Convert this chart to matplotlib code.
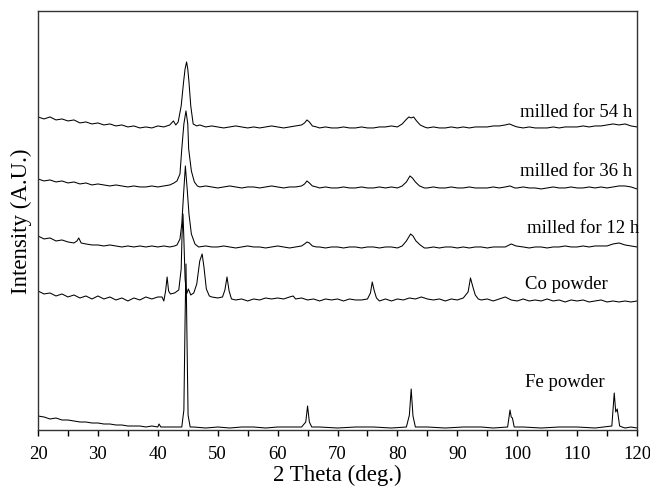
import matplotlib
matplotlib.use("Agg")
import matplotlib.pyplot as plt
from matplotlib.ticker import MultipleLocator

plt.rcParams['font.family'] = ['Liberation Serif', 'DejaVu Serif']

# (2theta deg, intensity a.u.); curves already offset
milled_54h = [
    (20, 313), (21, 311), (22, 313), (23, 310), (24, 311), (25, 309), (26, 310), (27, 307),
    (28, 308), (29, 306), (30, 307), (31, 305), (32, 306), (33, 304), (34, 305), (35, 303),
    (36, 304), (37, 302), (38, 303), (39, 302), (40, 304), (41, 303), (42, 305), (42.6, 309),
    (43.0, 305), (43.4, 308), (43.9, 324), (44.3, 348), (44.55, 361), (44.8, 368), (45.0, 361),
    (45.2, 348), (45.5, 324), (45.9, 306), (46.5, 304), (47, 305), (48, 303), (49, 304),
    (50, 303), (51, 302), (52, 303), (53, 304), (54, 303), (55, 302), (56, 303), (57, 302),
    (58, 303), (59, 304), (60, 303), (61, 302), (62, 303), (63, 304), (64, 305), (64.5, 307),
    (64.9, 310), (65.3, 308), (65.8, 304), (66.5, 303), (67, 302), (68, 303), (69, 302),
    (70, 302), (71, 303), (72, 302), (73, 302), (74, 303), (75, 302), (76, 302), (77, 303),
    (78, 303), (79, 304), (80, 303), (80.8, 306), (81.4, 310), (81.9, 313), (82.3, 312),
    (82.7, 313), (83.2, 309), (83.8, 305), (84.5, 303), (85, 302), (86, 303), (87, 302),
    (88, 302), (89, 303), (90, 302), (91, 303), (92, 302), (93, 303), (94, 303), (95, 303),
    (96, 304), (97, 304), (98, 305), (98.7, 306), (99.5, 304), (100, 303), (101, 302),
    (102, 303), (103, 302), (104, 302), (105, 302), (106, 303), (107, 302), (108, 303),
    (109, 303), (110, 303), (111, 304), (112, 303), (113, 304), (114, 304), (115, 305),
    (116, 306), (117, 305), (118, 306), (119, 304), (120, 303),
]

milled_36h = [
    (20, 251), (21, 249), (22, 250), (23, 248), (24, 249), (25, 247), (26, 248), (27, 246),
    (28, 247), (29, 245), (30, 246), (31, 245), (32, 244), (33, 245), (34, 244), (35, 243),
    (36, 244), (37, 243), (38, 243), (39, 244), (40, 243), (41, 244), (42, 245), (42.7, 247),
    (43.2, 249), (43.7, 256), (44.0, 281), (44.35, 306), (44.7, 319), (45.0, 306), (45.15, 281),
    (45.6, 259), (46.1, 248), (46.6, 244), (47, 243), (48, 244), (49, 243), (50, 242),
    (51, 243), (52, 244), (53, 243), (54, 242), (55, 243), (56, 243), (57, 242), (58, 243),
    (59, 244), (60, 243), (61, 242), (62, 243), (63, 243), (64, 244), (64.5, 246), (64.9, 249),
    (65.3, 247), (65.8, 244), (66.5, 243), (67, 242), (68, 243), (69, 242), (70, 242),
    (71, 243), (72, 242), (73, 242), (74, 243), (75, 242), (76, 242), (77, 243), (78, 242),
    (79, 243), (80, 242), (80.8, 244), (81.5, 248), (82.1, 254), (82.5, 252), (83.0, 248),
    (83.7, 244), (84.5, 242), (85, 242), (86, 243), (87, 242), (88, 242), (89, 243),
    (90, 242), (91, 242), (92, 243), (93, 242), (94, 242), (95, 242), (96, 243), (97, 242),
    (98, 243), (98.8, 244), (99.6, 242), (100, 242), (101, 243), (102, 242), (103, 242),
    (104, 241), (105, 242), (106, 243), (107, 242), (108, 242), (109, 243), (110, 242),
    (111, 242), (112, 243), (113, 242), (114, 243), (115, 242), (116, 243), (117, 244),
    (118, 244), (119, 243), (120, 241),
]

milled_12h = [
    (20, 194), (21, 191), (22, 192), (23, 189), (24, 190), (25, 188), (26, 187), (26.5, 189),
    (26.8, 192), (27.2, 187), (28, 186), (29, 185), (30, 185), (31, 184), (32, 185), (33, 184),
    (34, 183), (35, 184), (36, 183), (37, 184), (38, 183), (39, 184), (40, 183), (41, 184),
    (42, 183), (42.8, 184), (43.2, 185), (43.7, 191), (44.0, 206), (44.3, 236), (44.6, 264),
    (44.9, 241), (45.2, 216), (45.6, 196), (46.2, 186), (46.8, 183), (48, 184), (49, 183),
    (50, 183), (51, 184), (52, 183), (53, 182), (54, 183), (55, 184), (56, 183), (57, 183),
    (58, 182), (59, 183), (60, 184), (61, 183), (62, 182), (63, 183), (64, 184), (64.5, 186),
    (64.9, 188), (65.3, 187), (65.8, 184), (66.5, 183), (67, 183), (68, 182), (69, 183),
    (70, 183), (71, 182), (72, 183), (73, 183), (74, 182), (75, 183), (76, 183), (77, 182),
    (78, 183), (79, 183), (80, 182), (80.8, 184), (81.5, 189), (82.2, 196), (82.6, 194),
    (83.1, 189), (83.8, 185), (84.5, 182), (85, 182), (86, 183), (87, 182), (88, 183),
    (89, 183), (90, 182), (91, 183), (92, 182), (93, 183), (94, 183), (95, 182), (96, 183),
    (97, 183), (98, 183), (99, 186), (99.8, 184), (101, 183), (102, 182), (103, 183),
    (104, 183), (105, 182), (106, 183), (107, 183), (108, 184), (109, 183), (110, 183),
    (111, 184), (112, 183), (113, 184), (114, 184), (115, 184), (116, 186), (117, 187),
    (118, 185), (119, 184), (120, 183),
]

co_powder = [
    (20, 139), (21, 136), (22, 137), (23, 134), (24, 136), (25, 133), (26, 135), (27, 132),
    (28, 134), (29, 131), (30, 134), (31, 131), (32, 133), (33, 130), (34, 132), (35, 129),
    (36, 132), (37, 130), (38, 133), (39, 131), (40, 133), (40.7, 133), (41.0, 129),
    (41.3, 139), (41.55, 153), (41.8, 139), (42.1, 136), (42.8, 137), (43.5, 140),
    (43.9, 161), (44.05, 196), (44.2, 216), (44.35, 191), (44.55, 151), (44.8, 136),
    (45.1, 141), (45.5, 135), (46.0, 137), (46.5, 146), (47.0, 169), (47.4, 176),
    (47.7, 163), (48.1, 141), (48.6, 134), (49, 133), (50, 132), (50.8, 133), (51.2, 140),
    (51.55, 153), (51.9, 139), (52.3, 131), (53, 130), (54, 131), (55, 129), (56, 131),
    (57, 130), (58, 132), (59, 131), (60, 132), (61, 131), (62, 133), (62.6, 134), (63, 131),
    (64, 132), (65, 130), (66, 131), (67, 129), (68, 131), (69, 130), (70, 131), (71, 129),
    (72, 131), (73, 130), (74, 130), (75, 131), (75.5, 137), (75.8, 148), (76.1, 140),
    (76.5, 132), (77, 129), (78, 131), (79, 129), (80, 131), (81, 130), (82, 132), (83, 131),
    (84, 133), (85, 131), (86, 130), (87, 131), (88, 129), (89, 131), (90, 130), (91, 132),
    (91.8, 138), (92.2, 152), (92.6, 143), (93.0, 135), (93.5, 131), (94, 130), (95, 131),
    (96, 129), (97, 131), (98, 133), (99, 130), (100, 129), (101, 131), (102, 129),
    (103, 130), (104, 129), (105, 131), (106, 129), (107, 130), (108, 128), (109, 130),
    (110, 129), (111, 130), (112, 128), (113, 129), (114, 130), (115, 128), (116, 129),
    (117, 128), (118, 129), (119, 128), (120, 129),
]

fe_powder = [
    (20, 14), (21, 13), (22, 11), (23, 12), (24, 10), (25, 10), (26, 9), (27, 8), (28, 8),
    (29, 7), (30, 7), (31, 6), (32, 6), (33, 5), (34, 5), (35, 4), (36, 4), (37, 4), (38, 3),
    (39, 4), (40, 3), (40.2, 6), (40.5, 3), (41, 3), (42, 3), (43, 3), (44.0, 3), (44.35, 20),
    (44.55, 110), (44.7, 166), (44.85, 100), (45.05, 15), (45.4, 3), (46, 3), (48, 2),
    (50, 3), (52, 2), (54, 3), (56, 3), (58, 2), (60, 3), (62, 3), (64, 3), (64.7, 8),
    (65.0, 24), (65.3, 8), (65.7, 3), (67, 3), (70, 2), (73, 3), (76, 3), (79, 2), (81.5, 3),
    (82.0, 15), (82.3, 41), (82.6, 14), (83.0, 3), (85, 3), (88, 2), (91, 3), (94, 3),
    (96, 2), (98.4, 3), (98.8, 20), (99.0, 13), (99.2, 12), (99.5, 3), (101, 3), (104, 2),
    (107, 3), (110, 3), (113, 2), (115.8, 4), (116.2, 37), (116.45, 18), (116.7, 21),
    (117.1, 4), (117.5, 3), (118, 2), (119, 3), (120, 2),
]

curve_labels = ['milled for 54 h', 'milled for 36 h', 'milled for 12 h', 'Co powder', 'Fe powder']
label_x = [119.2, 119.2, 120.3, 101.3, 101.3]
label_y = [314, 255, 198, 142, 44]
label_ha = ['right', 'right', 'right', 'left', 'left']

fig = plt.figure(figsize=(6.5, 4.89), dpi=100)
ax = fig.add_axes([0.0585, 0.1186, 0.9215, 0.857])

for trace in [milled_54h, milled_36h, milled_12h, co_powder, fe_powder]:
    xs, ys = zip(*trace)
    ax.plot(xs, ys, color='black', lw=0.75)

for t, lx, ly, ha in zip(curve_labels, label_x, label_y, label_ha):
    ax.text(lx, ly, t, ha=ha, va='baseline', fontsize=13.5)

ax.set_xlim(20, 120)
ax.set_ylim(0, 419)
ax.xaxis.set_major_locator(MultipleLocator(10))
ax.xaxis.set_minor_locator(MultipleLocator(5))
ax.tick_params(axis='x', which='both', direction='out', length=4, width=1,
               labelsize=13.5, pad=7, top=False)
ax.set_yticks([])
for s in ax.spines.values():
    s.set_color('#333333')
    s.set_linewidth(1)
ax.set_xlabel('2 Theta (deg.)', fontsize=16.5, labelpad=1)
ax.set_ylabel('Intensity (A.U.)', fontsize=16.5, labelpad=4)

fig.savefig('out.png', dpi=100)
